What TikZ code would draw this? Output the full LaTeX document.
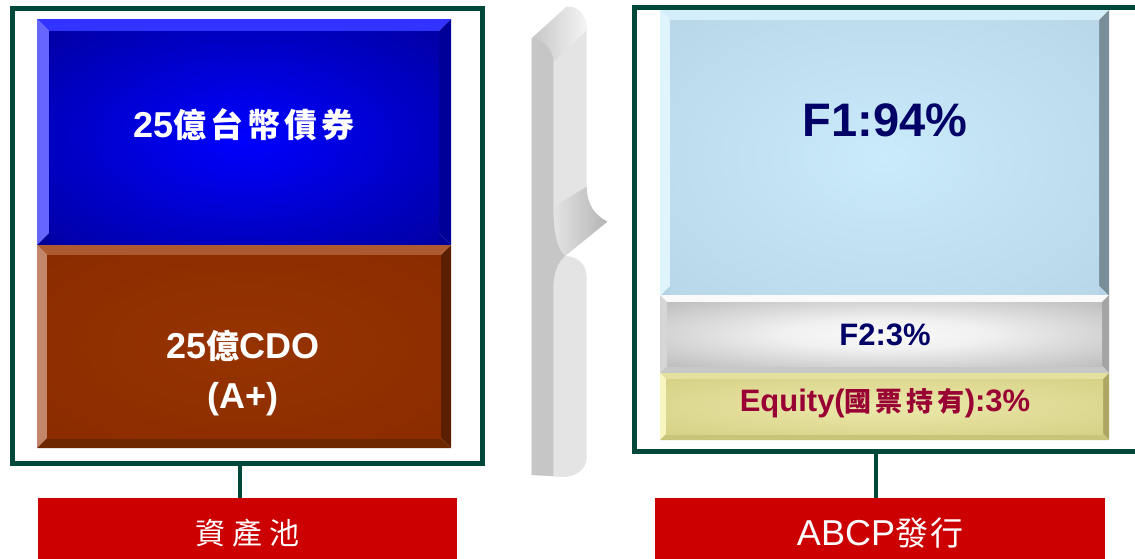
\documentclass[tikz,border=0pt]{standalone}
\usepackage{fontspec}
\setmainfont{Liberation Sans}
\newfontfamily\cjk{Noto Sans CJK TC}
\usetikzlibrary{calc}

\definecolor{frameg}{HTML}{00483A}
\definecolor{labred}{HTML}{CC0000}
\definecolor{navy}{HTML}{000066}
\definecolor{eqred}{HTML}{990033}
\definecolor{bluetop}{HTML}{3333FF}
\definecolor{blueleft}{HTML}{6666FF}
\definecolor{bluedark}{HTML}{000099}
\definecolor{brtop}{HTML}{AD5A32}
\definecolor{brleft}{HTML}{C4866A}
\definecolor{brright}{HTML}{5A1E00}
\definecolor{brbot}{HTML}{6E2800}
\definecolor{ltop}{HTML}{D4EEFA}
\definecolor{lleft}{HTML}{E0F4FC}
\definecolor{lright}{HTML}{7A8E99}
\definecolor{ledge}{HTML}{B5D3E4}
\definecolor{gtop}{HTML}{FAFAFA}
\definecolor{gleft}{HTML}{D6D6D6}
\definecolor{gright}{HTML}{A4A4A4}
\definecolor{gbot}{HTML}{C8C8C8}
\definecolor{ytop}{HTML}{E4E0A0}
\definecolor{yleft}{HTML}{F8F6C0}
\definecolor{yright}{HTML}{ACA864}
\definecolor{ybot}{HTML}{C8C478}
\definecolor{bracelight}{HTML}{E4E4E4}
\definecolor{bracedark}{HTML}{C6C6C6}
\definecolor{bracetip}{HTML}{B4B4B4}

\pgfdeclareradialshading{blueglow}{\pgfpointorigin}{color(0bp)=(rgb,255:red,0;green,0;blue,255); color(40bp)=(rgb,255:red,0;green,0;blue,153); color(50bp)=(rgb,255:red,0;green,0;blue,153)}
\pgfdeclareradialshading{brownglow}{\pgfpointorigin}{color(0bp)=(rgb,255:red,150;green,51;blue,0); color(40bp)=(rgb,255:red,137;green,43;blue,0); color(50bp)=(rgb,255:red,137;green,43;blue,0)}
\pgfdeclareradialshading{lightglow}{\pgfpointorigin}{color(0bp)=(rgb,255:red,202;green,235;blue,252); color(42bp)=(rgb,255:red,181;green,211;blue,228); color(50bp)=(rgb,255:red,181;green,211;blue,228)}
\pgfdeclareradialshading{greyglow}{\pgfpointorigin}{color(0bp)=(rgb,255:red,250;green,250;blue,250); color(12bp)=(rgb,255:red,240;green,240;blue,240); color(42bp)=(rgb,255:red,176;green,176;blue,176); color(50bp)=(rgb,255:red,176;green,176;blue,176)}
\pgfdeclareradialshading{yellowglow}{\pgfpointorigin}{color(0bp)=(rgb,255:red,236;green,232;blue,170); color(42bp)=(rgb,255:red,210;green,205;blue,128); color(50bp)=(rgb,255:red,210;green,205;blue,128)}

% bevelled box: x1 y1 x2 y2 bevel top left right bottom
\newcommand\bevbox[9]{%
  \fill[#6] (#1,#2) -- (#3,#2) -- ({#3-#5},{#2+#5}) -- ({#1+#5},{#2+#5}) -- cycle;
  \fill[#7] (#1,#2) -- ({#1+#5},{#2+#5}) -- ({#1+#5},{#4-#5}) -- (#1,#4) -- cycle;
  \fill[#8] (#3,#2) -- (#3,#4) -- ({#3-#5},{#4-#5}) -- ({#3-#5},{#2+#5}) -- cycle;
  \fill[#9] (#1,#4) -- ({#1+#5},{#4-#5}) -- ({#3-#5},{#4-#5}) -- (#3,#4) -- cycle;
}

\begin{document}
\begin{tikzpicture}[x=1pt,y=-1pt,
  frame/.style={draw=frameg, line width=5pt, inner sep=0pt, fill=none},
  conn/.style={draw=frameg, line width=4pt},
  lab/.style={fill=labred, inner sep=0pt, text=white},
  boxtext/.style={inner sep=0pt, align=center}]
\clip (0,0) rectangle (1135,558);
\fill[white] (0,0) rectangle (1135,558);

% ---------- left side: asset pool ----------
\node[frame, minimum width=470pt, minimum height=455pt] (poolframe) at (247,235.5) {};

\bevbox{37}{19}{451}{245}{12}{bluetop}{blueleft}{bluedark}{bluedark}
\shade[shading=blueglow] (49,31) rectangle (439,245);
\node[boxtext, text=white, font=\bfseries\fontsize{36}{40}\selectfont] (bondtext) at (244,125)
  {25{\fontsize{33}{40}\selectfont\cjk\bfseries 億\hspace{4pt}台\hspace{4pt}幣\hspace{4pt}債\hspace{4pt}券}};

\bevbox{37}{245}{451}{448}{10}{brtop}{brleft}{brright}{brbot}
\shade[shading=brownglow] (47,255) rectangle (441,438);
\node[boxtext, text=white, font=\bfseries\fontsize{36}{50}\selectfont] (cdotext) at (243,373)
  {25{\fontsize{33}{50}\selectfont\cjk\bfseries 億}CDO\\(A+)};

\node[lab, minimum width=419pt, minimum height=70pt, font=\fontsize{30}{34}\selectfont\cjk] (poollabel) at (247.5,533)
  {資\hspace{7pt}產\hspace{7pt}池};
\draw[conn] ([xshift=-7pt]poolframe.south) -- ([xshift=-7pt]poolframe.south |- poollabel.north);

% ---------- brace ----------
\fill[bracelight] (531.7,38.3) -- (566.7,6.7) .. controls (578,6) and (586.7,15) .. (586.7,30)
  -- (586.7,186.7) .. controls (586.7,205) and (595,215) .. (607.3,221.7)
  -- (565,256) .. controls (575,256) and (586.7,262) .. (586.7,278)
  -- (586.7,456.7) .. controls (586.7,470) and (575,477) .. (563.3,477)
  -- (531.7,475) -- cycle;
\shade[left color=bracedark, right color=gray!8] (531.7,38.3) -- (566.7,6.7)
  .. controls (578,6) and (586.7,15) .. (586.7,30) -- (553.3,62)
  .. controls (553.3,50) and (545,40) .. (531.7,38.3) -- cycle;
\shade[left color=bracelight, right color=bracetip] (553.3,206.7) .. controls (553.3,235) and (558,250) .. (565,256)
  -- (607.3,221.7) .. controls (595,215) and (586.7,205) .. (586.7,186.7) -- cycle;
\fill[bracedark] (531.7,38.3) .. controls (545,40) and (553.3,50) .. (553.3,62)
  -- (553.3,206.7) .. controls (553.3,235) and (558,250) .. (565,256)
  .. controls (558,262) and (553.3,272) .. (553.3,290)
  -- (553.3,476) -- (531.7,475) -- cycle;

% ---------- right side: ABCP ----------
\node[frame, minimum width=510pt, minimum height=444pt] (abcpframe) at (889.5,229.5) {};

\bevbox{660}{10}{1109}{296}{10}{ltop}{lleft}{lright}{ledge}
\shade[shading=lightglow] (670,20) rectangle (1099,296);
\node[boxtext, text=navy, font=\bfseries\fontsize{47}{50}\selectfont] (f1text) at (885,120) {F1:94\%};

\bevbox{660}{295}{1109}{373}{7}{gtop}{gleft}{gright}{gbot}
\shade[shading=greyglow] (667,302) rectangle (1102,366);
\node[boxtext, text=navy, font=\bfseries\fontsize{31}{34}\selectfont] (f2text) at (885,335) {F2:3\%};

\bevbox{660}{373}{1109}{440}{6}{ytop}{yleft}{yright}{ybot}
\shade[shading=yellowglow] (666,379) rectangle (1103,434);
\node[boxtext, text=eqred, font=\bfseries\fontsize{31}{34}\selectfont] (eqtext) at (885,403)
  {Equity({\fontsize{27}{34}\selectfont\cjk\bfseries 國\hspace{4pt}票\hspace{4pt}持\hspace{4pt}有}):3\%};

\node[lab, minimum width=450pt, minimum height=70pt, font=\fontsize{36}{38}\selectfont] (abcplabel) at (880,533)
  {ABCP{\fontsize{33}{38}\selectfont\cjk 發\hspace{2pt}行}};
\draw[conn] ([xshift=-4pt]abcplabel.north) -- ([xshift=-4pt]abcplabel.north |- abcpframe.south);
\end{tikzpicture}
\end{document}
